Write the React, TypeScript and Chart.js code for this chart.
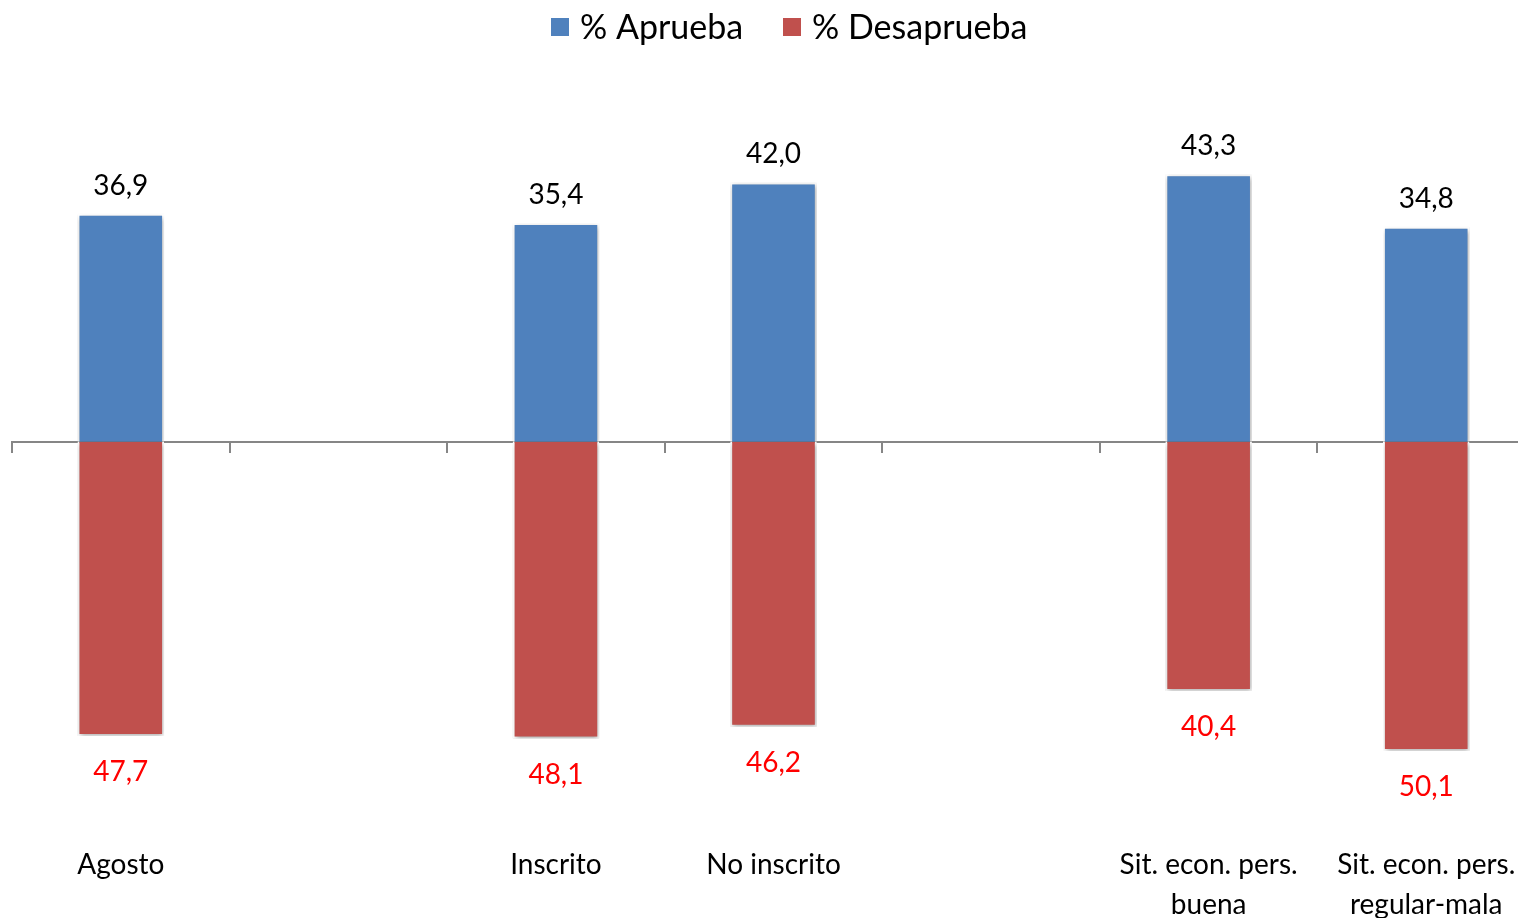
import React, { useEffect, useRef } from "react";
import { Chart, registerables } from "chart.js";

Chart.register(...registerables);

const categories: (string | string[])[] = [
  "Agosto",
  "",
  "Inscrito",
  "No inscrito",
  "",
  ["Sit. econ. pers.", "buena"],
  ["Sit. econ. pers.", "regular-mala"],
];
const approve: (number | null)[] = [36.9, null, 35.4, 42.0, null, 43.3, 34.8];
const disapprove: (number | null)[] = [47.7, null, 48.1, 46.2, null, 40.4, 50.1];
const seriesNames = ["% Aprueba", "% Desaprueba"];
const seriesColors = ["#4F81BD", "#C0504D"];

const FONT = "Lato, 'Open Sans', sans-serif";
const fmt = (v: number) => v.toFixed(1).replace(".", ",");

const shadowPlugin = {
  id: "barShadow",
  beforeDatasetsDraw(chart: any) {
    const ctx = chart.ctx;
    ctx.save();
    ctx.shadowColor = "rgba(0,0,0,0.35)";
    ctx.shadowBlur = 5;
    ctx.shadowOffsetX = 1;
    ctx.shadowOffsetY = 2;
  },
  afterDatasetsDraw(chart: any) {
    chart.ctx.restore();
  },
};

const labelPlugin = {
  id: "valueLabels",
  afterDatasetsDraw(chart: any) {
    const ctx = chart.ctx;
    ctx.save();
    ctx.font = `28px ${FONT}`;
    ctx.textAlign = "center";
    ctx.textBaseline = "middle";
    chart.data.datasets.forEach((ds: any, di: number) => {
      const meta = chart.getDatasetMeta(di);
      const src = di === 0 ? approve : disapprove;
      meta.data.forEach((bar: any, i: number) => {
        const v = src[i];
        if (v === null || v === undefined) return;
        if (di === 0) {
          ctx.fillStyle = "#000000";
          ctx.fillText(fmt(v), bar.x, bar.y - 28);
        } else {
          ctx.fillStyle = "#FF0000";
          ctx.fillText(fmt(v), bar.x, bar.y + 36);
        }
      });
    });
    ctx.restore();
  },
};

const legendPlugin = {
  id: "customLegend",
  afterDraw(chart: any) {
    const ctx = chart.ctx;
    ctx.save();
    ctx.font = `34px ${FONT}`;
    ctx.textBaseline = "middle";
    ctx.textAlign = "left";
    const boxes = [551, 783];
    seriesNames.forEach((name, i) => {
      ctx.fillStyle = seriesColors[i];
      ctx.fillRect(boxes[i], 18, 18, 18);
      ctx.fillStyle = "#000000";
      ctx.fillText(name, boxes[i] + 29, 28);
    });
    ctx.restore();
  },
};

export default function App() {
  const ref = useRef<HTMLCanvasElement | null>(null);
  useEffect(() => {
    if (!ref.current) return;
    const chart = new Chart(ref.current, {
      type: "bar",
      data: {
        labels: categories,
        datasets: [
          {
            label: seriesNames[0],
            data: approve,
            backgroundColor: seriesColors[0],
            borderColor: "#FFFFFF",
            borderWidth: 2,
          },
          {
            label: seriesNames[1],
            data: disapprove.map((v) => (v === null ? null : -v)),
            backgroundColor: seriesColors[1],
            borderColor: "#FFFFFF",
            borderWidth: 2,
          },
        ],
      },
      options: {
        animation: false,
        responsive: false,
        maintainAspectRatio: false,
        layout: { padding: { top: 133, left: 12, right: 5, bottom: 0 } },
        datasets: {
          bar: { barPercentage: 0.398, categoryPercentage: 1 },
        },
        plugins: {
          legend: { display: false },
          tooltip: { enabled: false },
        },
        scales: {
          x: {
            stacked: true,
            grid: { display: false, drawTicks: false },
            border: { display: false },
            ticks: {
              color: "#000000",
              padding: 33,
              maxRotation: 0,
              autoSkip: false,
              font: { family: FONT, size: 28, lineHeight: "40px" } as any,
            },
            afterFit: (scale: any) => {
              scale.height = 113;
              scale.paddingLeft = 0;
              scale.paddingRight = 0;
            },
          },
          x2: {
            type: "category",
            labels: categories as any,
            position: { y: 0 } as any,
            offset: true,
            grid: {
              offset: true,
              drawOnChartArea: false,
              drawTicks: true,
              tickLength: 10,
              color: "#868686",
              lineWidth: 2,
            },
            border: { display: true, color: "#868686", width: 2 },
            ticks: { display: false },
            afterFit: (scale: any) => {
              scale.paddingLeft = 0;
              scale.paddingRight = 0;
            },
          },
          y: {
            stacked: true,
            display: false,
            min: -60,
            max: 50,
          },
        },
      },
      plugins: [shadowPlugin, labelPlugin, legendPlugin],
    });
    return () => chart.destroy();
  }, []);
  return (
    <div style={{ position: "fixed", left: 0, top: 0, width: 1540, height: 925, background: "#fff" }}>
      <canvas ref={ref} width={1540} height={925} style={{ display: "block" }} />
    </div>
  );
}
